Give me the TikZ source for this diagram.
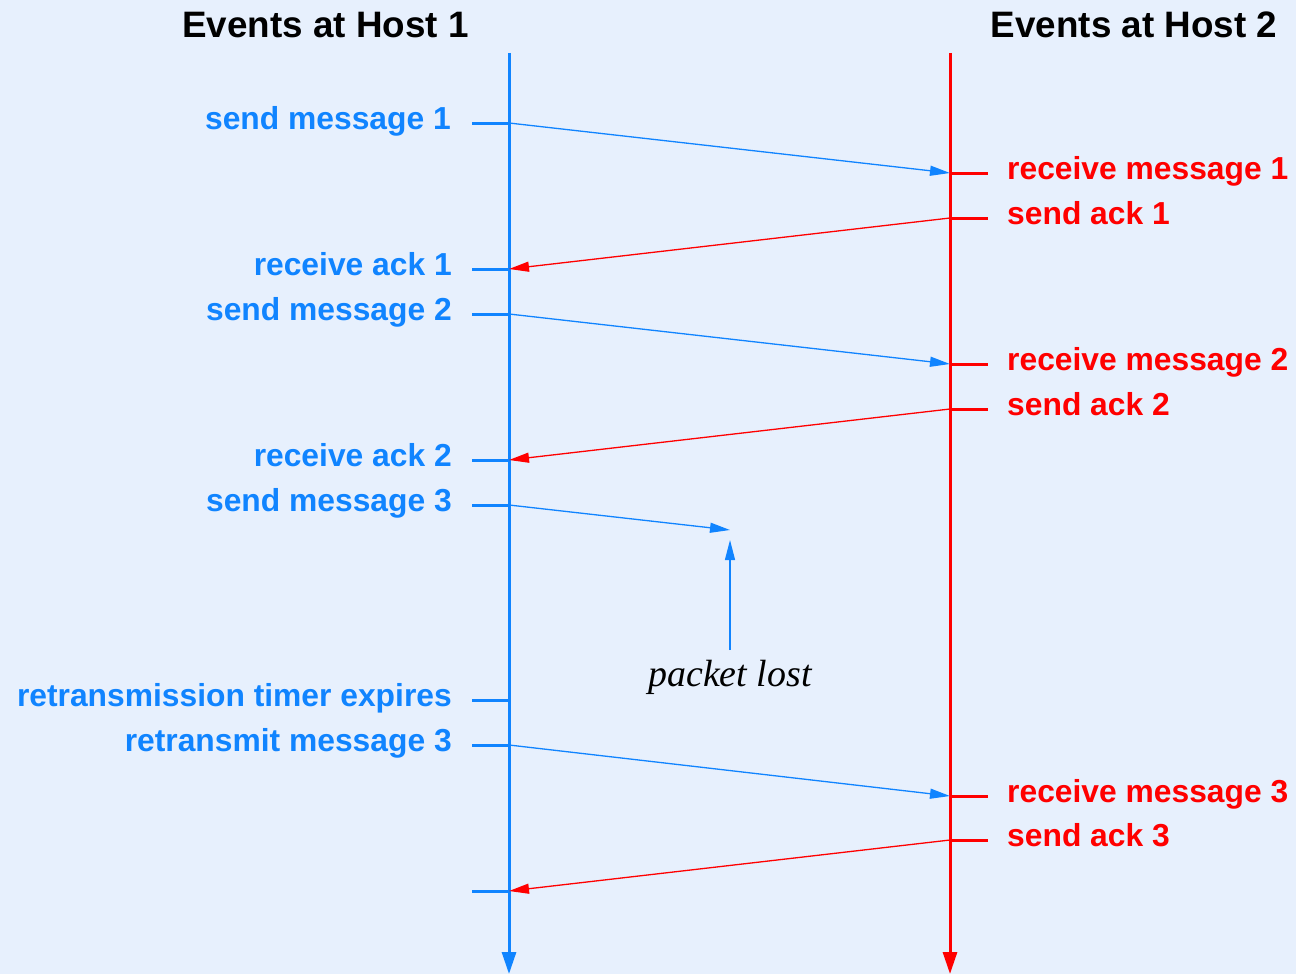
\documentclass[tikz,border=0pt]{standalone}
\usepackage{fontspec}
\setmainfont{Liberation Sans}
\newfontfamily\serifit{Liberation Serif}
\usetikzlibrary{arrows.meta}
\definecolor{hblue}{RGB}{16,132,255}
\definecolor{hred}{RGB}{255,0,0}
\definecolor{bgc}{RGB}{231,240,253}
\begin{document}
\begin{tikzpicture}[x=1pt,y=-1pt,
  lbl/.style={font=\fontsize{31.8}{36}\selectfont\bfseries, inner sep=0pt},
  ttl/.style={font=\fontsize{36.8}{40}\selectfont\bfseries, inner sep=0pt, text=black},
  bl/.style={lbl, text=hblue, anchor=base east},
  rl/.style={lbl, text=hred, anchor=base west},
  axis/.style={line width=3pt, -{Triangle[length=22pt,width=14pt]}},
  tick/.style={line width=3pt},
  msg/.style={line width=1.3pt, -{Triangle[length=20pt,width=10pt]}}]
\fill[bgc] (0,0) rectangle (1296,974);
\useasboundingbox (0,0) rectangle (1296,974);
% titles
\node[ttl, anchor=base] (t1) at (325.5,38) {Events at Host 1};
\node[ttl, anchor=base] (t2) at (1134,38) {Events at Host 2};
% axes
\coordinate (h1top) at (509,53);
\coordinate (h1bot) at (509,974);
\coordinate (h2top) at (950,53);
\coordinate (h2bot) at (950,974);
\draw[axis, hblue] (h1top) -- (h1bot);
\draw[axis, hred] (h2top) -- (h2bot);
% event points on host 1
\foreach \n/\y in {a/123, b/269, c/314, d/460, e/505, f/700, g/745, h/891}{
  \coordinate (L\n) at (509,\y);
  \coordinate (Lt\n) at (472,\y);
  \draw[tick, hblue] (Lt\n) -- (L\n);
}
% event points on host 2
\foreach \n/\y in {a/173, b/218, c/364, d/409, e/796, f/840}{
  \coordinate (R\n) at (950,\y);
  \coordinate (Rt\n) at (988,\y);
  \draw[tick, hred] (R\n) -- (Rt\n);
}
% labels host 1
\node[bl] (l1) at (451,129) {send message 1};
\node[bl] (l2) at (452,275) {receive ack 1};
\node[bl] (l3) at (452,320) {send message 2};
\node[bl] (l4) at (452,466) {receive ack 2};
\node[bl] (l5) at (452,511) {send message 3};
\node[bl] (l6) at (452,706) {retransmission timer expires};
\node[bl] (l7) at (452,751) {retransmit message 3};
% labels host 2
\node[rl] (r1) at (1007,179) {receive message 1};
\node[rl] (r2) at (1007,224) {send ack 1};
\node[rl] (r3) at (1007,370) {receive message 2};
\node[rl] (r4) at (1007,415) {send ack 2};
\node[rl] (r5) at (1007,802) {receive message 3};
\node[rl] (r6) at (1007,846) {send ack 3};
% messages
\draw[msg, hblue] (La) -- (Ra);
\draw[msg, hred] (Rb) -- (Lb);
\draw[msg, hblue] (Lc) -- (Rc);
\draw[msg, hred] (Rd) -- (Ld);
\coordinate (lost) at (730,530);
\draw[msg, hblue] (Le) -- (lost);
\draw[msg, hblue] (Lg) -- (Re);
\draw[msg, hred] (Rf) -- (Lh);
% packet lost
\node[font=\fontsize{37.9}{42}\serifit\itshape, inner sep=0pt, anchor=base] (pl) at (730,686) {packet lost};
\coordinate (plfrom) at (730,650);
\coordinate (plto) at (730,540);
\draw[msg, hblue] (plfrom) -- (plto);
\end{tikzpicture}
\end{document}
